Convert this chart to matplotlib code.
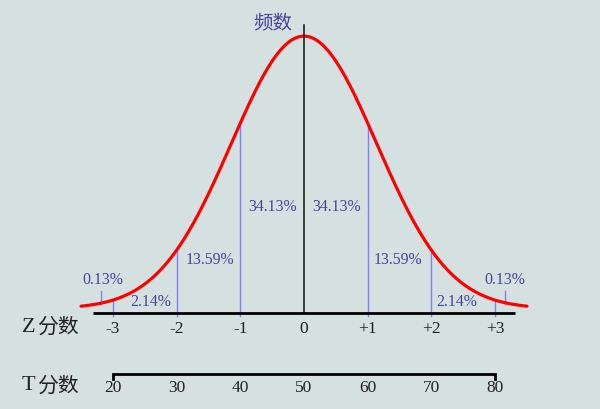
import numpy as np
import matplotlib
matplotlib.use("Agg")
import matplotlib.pyplot as plt

# ---- data ----
z_ticks = [-3, -2, -1, 0, 1, 2, 3]
z_labels = ["-3", "-2", "-1", "0", "+1", "+2", "+3"]
t_labels = ["20", "30", "40", "50", "60", "70", "80"]
area_labels = ["0.13%", "2.14%", "13.59%", "34.13%", "34.13%", "13.59%", "2.14%", "0.13%"]
# label anchor positions (z units) and heights (fraction of peak)
area_label_x = [-3.16, -2.41, -1.48, -0.50, 0.51, 1.47, 2.40, 3.15]
area_label_y = [0.118, 0.038, 0.192, 0.384, 0.384, 0.192, 0.038, 0.118]
tail_marks = [-3.18, 3.15]          # short marks for the 0.13% tails
tail_mark_top = 0.08

# theoretical curve parameters (as drawn in the picture)
curve_mean = 0.0
curve_sd = 1.14
curve_peak = 1.005
curve_base = 0.014
curve_range = (-3.5, 3.5)

BG = "#d5e1e0"
TXT = "#45459a"
BLUE = "#8080ff"

def curve(z):
    z = np.asarray(z, dtype=float)
    return curve_base + (curve_peak - curve_base) * np.exp(-0.5 * ((z - curve_mean) / curve_sd) ** 2)

W, H = 600, 409
fig = plt.figure(figsize=(W / 100, H / 100), dpi=100, facecolor=BG)
ax = fig.add_axes([0, 0, 1, 1], facecolor=BG)
px = 63.7            # pixels per z unit
cx = 304             # pixel of z = 0
axis_py = 312.5      # pixel of Z axis line
unit = 275.0         # pixels for height 1
ax.set_xlim((0 - cx) / px, (W - cx) / px)
ax.set_ylim(-(H - axis_py) / unit, axis_py / unit)
ax.axis("off")

serif = ["Liberation Serif", "DejaVu Serif"]
cjk = ["Noto Sans CJK SC", "DejaVu Sans"]

# curve
zz = np.linspace(curve_range[0], curve_range[1], 400)
ax.plot(zz, curve(zz), color="#ff0000", lw=2.3, solid_capstyle="round", zorder=4)

# vertical division lines
for z in z_ticks:
    if z == 0:
        continue
    ax.plot([z, z], [-0.012, curve(z)], color=BLUE, lw=1.0, zorder=3)
for z in tail_marks:
    ax.plot([z, z], [curve(z) - 0.005, tail_mark_top], color=BLUE, lw=1.0, zorder=3)

# central axis
ax.plot([0, 0], [0, (axis_py - 25) / unit], color="#222222", lw=1.2, zorder=5)
ax.text((273 - cx) / px, (axis_py - 24) / unit, "频数", family=cjk, fontsize=14, color=TXT,
        ha="center", va="center")

# Z axis
zl, zr = (93 - cx) / px, (515 - cx) / px
ax.plot([zl, zr], [0, 0], color="black", lw=2.0, zorder=5, solid_capstyle="butt")
for z, lab in zip(z_ticks, z_labels):
    ax.text(z, -(329 - axis_py) / unit, lab, family=serif, fontsize=12.5, color="#222222",
            ha="center", va="center")

# T axis
ty = -(374 - axis_py) / unit
ax.plot([z_ticks[0], z_ticks[0], z_ticks[-1], z_ticks[-1]],
        [ty - 5 / unit, ty, ty, ty - 5 / unit], color="black", lw=2.0, zorder=5,
        solid_joinstyle="miter")
for z, lab in zip(z_ticks, t_labels):
    ax.text(z, -(388 - axis_py) / unit, lab, family=serif, fontsize=12.5, color="#222222",
            ha="center", va="center")

# axis names
for name, py in [("Z", 327), ("T", 386)]:
    ax.text((22 - cx) / px, -(py - axis_py) / unit, name, family=serif, fontsize=16,
            color="#222222", ha="left", va="center")
    ax.text((37 - cx) / px, -(py - axis_py) / unit, "分数", family=cjk, fontsize=15,
            color="#222222", ha="left", va="center")

# area percentages
for x, y, lab in zip(area_label_x, area_label_y, area_labels):
    ax.text(x, y, lab, family=serif, fontsize=11.4, color=TXT, ha="center", va="center",
            zorder=6)

fig.savefig("out.png", dpi=100, facecolor=BG)
